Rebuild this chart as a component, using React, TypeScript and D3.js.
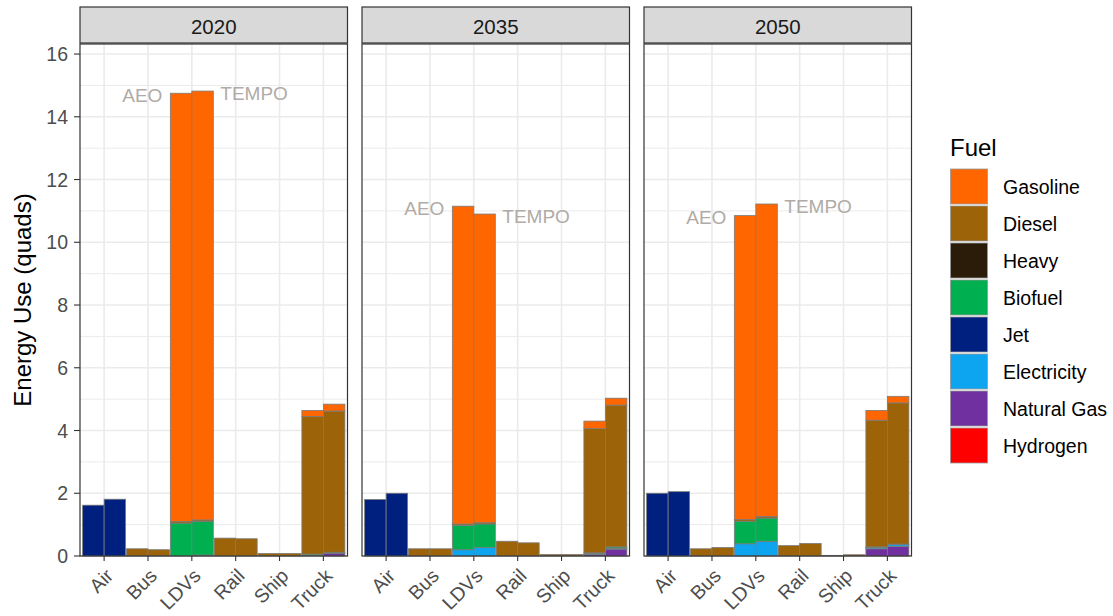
import React from 'react';
import * as d3 from 'd3';

const years = ['2020', '2035', '2050'];
const sectors = ['Air', 'Bus', 'LDVs', 'Rail', 'Ship', 'Truck'];
const scenarios = ['AEO', 'TEMPO'];
const fuels = ['Gasoline', 'Diesel', 'Heavy', 'Biofuel', 'Jet', 'Electricity', 'Natural Gas', 'Hydrogen'];
const fuelColors = ['#FF6600', '#9C6308', '#2B1C0A', '#00B050', '#002080', '#0EA5F0', '#7030A0', '#FF0000'];
const yTicks = [0, 2, 4, 6, 8, 10, 12, 14, 16];

// Order: for each year (2020, 2035, 2050), for each sector (Air, Bus, LDVs, Rail, Ship, Truck): [AEO, TEMPO]
const gasoline = [
  0, 0, 0, 0, 13.65, 13.67, 0, 0, 0, 0, 0.19, 0.22,
  0, 0, 0, 0, 10.13, 9.84, 0, 0, 0, 0, 0.24, 0.22,
  0, 0, 0, 0, 9.69, 9.96, 0, 0, 0, 0, 0.31, 0.21,
];
const diesel = [
  0, 0, 0.23, 0.2, 0.05, 0.05, 0.57, 0.55, 0.08, 0.08, 4.39, 4.5,
  0, 0, 0.23, 0.23, 0.04, 0.04, 0.47, 0.42, 0.05, 0.05, 3.96, 4.52,
  0, 0, 0.23, 0.27, 0.05, 0.05, 0.33, 0.4, 0.02, 0.04, 4.04, 4.5,
];
const heavy = [
  0, 0, 0, 0, 0, 0, 0, 0, 0, 0, 0, 0,
  0, 0, 0, 0, 0, 0, 0, 0, 0, 0, 0, 0,
  0, 0, 0, 0, 0, 0, 0, 0, 0, 0, 0, 0,
];
const biofuel = [
  0, 0, 0, 0, 1.05, 1.07, 0, 0, 0, 0, 0.04, 0.03,
  0, 0, 0, 0, 0.78, 0.75, 0, 0, 0, 0, 0.03, 0.04,
  0, 0, 0, 0, 0.72, 0.74, 0, 0, 0, 0, 0.02, 0.02,
];
const jet = [
  1.62, 1.81, 0, 0, 0, 0, 0, 0, 0, 0, 0, 0,
  1.8, 2.0, 0, 0, 0, 0, 0, 0, 0, 0, 0, 0,
  2.0, 2.05, 0, 0, 0, 0, 0, 0, 0, 0, 0, 0,
];
const electricity = [
  0, 0, 0, 0, 0, 0.03, 0, 0, 0, 0, 0, 0,
  0, 0, 0, 0, 0.2, 0.27, 0, 0, 0, 0, 0.02, 0.03,
  0, 0, 0, 0, 0.39, 0.47, 0, 0, 0, 0, 0.04, 0.06,
];
const naturalGas = [
  0, 0, 0, 0, 0, 0, 0, 0, 0, 0, 0.02, 0.09,
  0, 0, 0, 0, 0, 0, 0, 0, 0, 0, 0.05, 0.22,
  0, 0, 0, 0, 0, 0, 0, 0, 0, 0, 0.23, 0.3,
];
const hydrogen = [
  0, 0, 0, 0, 0, 0, 0, 0, 0, 0, 0, 0,
  0, 0, 0, 0, 0, 0, 0, 0, 0, 0, 0, 0,
  0, 0, 0, 0, 0, 0, 0, 0, 0, 0, 0, 0,
];
const fuelSeries = [gasoline, diesel, heavy, biofuel, jet, electricity, naturalGas, hydrogen];

const W = 1113;
const H = 616;
const FONT = '"Liberation Sans", Arial, Helvetica, sans-serif';
const panelLeft0 = 80;
const panelW = 267.5;
const panelGap = 14.5;
const stripTop = 7;
const stripH = 36;
const plotTop = stripTop + stripH + 1;
const plotBottom = 556;

type Row = { year: string; sector: string; scenario: string; [k: string]: any };

const rows: Row[] = d3.range(years.length * sectors.length * scenarios.length).map((i) => {
  const r: Row = {
    year: years[Math.floor(i / 12)],
    sector: sectors[Math.floor((i % 12) / 2)],
    scenario: scenarios[i % 2],
  };
  fuels.forEach((f, fi) => (r[f] = fuelSeries[fi][i]));
  return r;
});

const stackKeys = fuels.slice().reverse();
const stacked = d3.stack<Row>().keys(stackKeys)(rows);

export default function App() {
  const y = d3.scaleLinear().domain([0, 16.32]).range([plotBottom, plotTop]);
  const x = d3.scalePoint<string>().domain(sectors).range([0, panelW]).padding(0.55);
  const step = x.step();
  const dodgeW = step * 0.98;
  const xs = d3.scaleBand<string>().domain(scenarios).range([-dodgeW / 2, dodgeW / 2]).padding(0);
  const panelX = (yr: string) => panelLeft0 + years.indexOf(yr) * (panelW + panelGap);
  const minorTicks = d3.range(1, 17, 2);

  const legendTop = 168;
  const legendStep = 37;

  return (
    <svg width={W} height={H} style={{ position: 'absolute', left: 0, top: 0, background: '#fff' }} fontFamily={FONT}>
      <rect x={0} y={0} width={W} height={H} fill="#fff" />
      {years.map((yr) => {
        const px = panelX(yr);
        const ldv = rows.filter((r) => r.year === yr && r.sector === 'LDVs');
        const tot = (r: Row) => d3.sum(fuels, (f) => r[f]);
        return (
          <g key={yr}>
            <rect x={px} y={stripTop} width={panelW} height={stripH} fill="#D9D9D9" stroke="#333" strokeWidth={1.2} />
            <text x={px + panelW / 2} y={stripTop + stripH / 2 + 1} textAnchor="middle" dominantBaseline="central" fontSize={20.5} fill="#1A1A1A">
              {yr}
            </text>
            {minorTicks.map((t) => (
              <line key={'mi' + t} x1={px} x2={px + panelW} y1={y(t)} y2={y(t)} stroke="#EBEBEB" strokeWidth={1} />
            ))}
            {yTicks.map((t) => (
              <line key={'ma' + t} x1={px} x2={px + panelW} y1={y(t)} y2={y(t)} stroke="#EBEBEB" strokeWidth={1.6} />
            ))}
            {sectors.map((s) => (
              <line key={'v' + s} x1={px + x(s)!} x2={px + x(s)!} y1={plotTop} y2={plotBottom} stroke="#EBEBEB" strokeWidth={1.6} />
            ))}
            {stacked.map((layer) => {
              const color = fuelColors[fuels.indexOf(layer.key)];
              return layer.map((d, i) => {
                const r = rows[i];
                if (r.year !== yr) return null;
                if (d[1] - d[0] <= 0) return null;
                const bx = px + x(r.sector)! + xs(r.scenario)!;
                return (
                  <rect
                    key={layer.key + i}
                    x={bx}
                    y={y(d[1])}
                    width={xs.bandwidth()}
                    height={y(d[0]) - y(d[1])}
                    fill={color}
                    stroke="#7a7a7a"
                    strokeWidth={0.8}
                  />
                );
              });
            })}
            {ldv.map((r) => {
              const bx = px + x('LDVs')! + xs(r.scenario)!;
              const isA = r.scenario === 'AEO';
              return (
                <text
                  key={'ann' + r.scenario}
                  x={isA ? bx - 8 : bx + xs.bandwidth() + 7}
                  y={y(tot(r)) + 2}
                  textAnchor={isA ? 'end' : 'start'}
                  dominantBaseline="central"
                  fontSize={19}
                  fill="#B0ABA6"
                >
                  {r.scenario}
                </text>
              );
            })}
            <rect x={px} y={plotTop} width={panelW} height={plotBottom - plotTop} fill="none" stroke="#333" strokeWidth={1.2} />
            {sectors.map((s) => (
              <g key={'xt' + s}>
                <line x1={px + x(s)!} x2={px + x(s)!} y1={plotBottom} y2={plotBottom + 5} stroke="#333" strokeWidth={1.1} />
                <text
                  transform={`translate(${px + x(s)!},${plotBottom + 11}) rotate(-45)`}
                  textAnchor="end"
                  dominantBaseline="hanging"
                  fontSize={19.5}
                  fill="#4D4D4D"
                >
                  {s}
                </text>
              </g>
            ))}
          </g>
        );
      })}
      {yTicks.map((t) => (
        <g key={'yt' + t}>
          <line x1={panelLeft0 - 6} x2={panelLeft0} y1={y(t)} y2={y(t)} stroke="#333" strokeWidth={1.1} />
          <text x={panelLeft0 - 12} y={y(t)} textAnchor="end" dominantBaseline="central" fontSize={19.5} fill="#4D4D4D">
            {t}
          </text>
        </g>
      ))}
      <text
        transform={`translate(22,${(plotTop + plotBottom) / 2}) rotate(-90)`}
        textAnchor="middle"
        dominantBaseline="central"
        fontSize={24}
        fill="#000"
      >
        Energy Use (quads)
      </text>
      <text x={950} y={147} dominantBaseline="central" fontSize={24} fill="#000">
        Fuel
      </text>
      {fuels.map((f, i) => (
        <g key={'lg' + f}>
          <rect x={950.5} y={legendTop + i * legendStep + 1} width={37} height={35} fill={fuelColors[i]} stroke="#9a9a9a" strokeWidth={0.8} />
          <text x={1003} y={legendTop + i * legendStep + 19} dominantBaseline="central" fontSize={19.5} fill="#000">
            {f}
          </text>
        </g>
      ))}
    </svg>
  );
}
